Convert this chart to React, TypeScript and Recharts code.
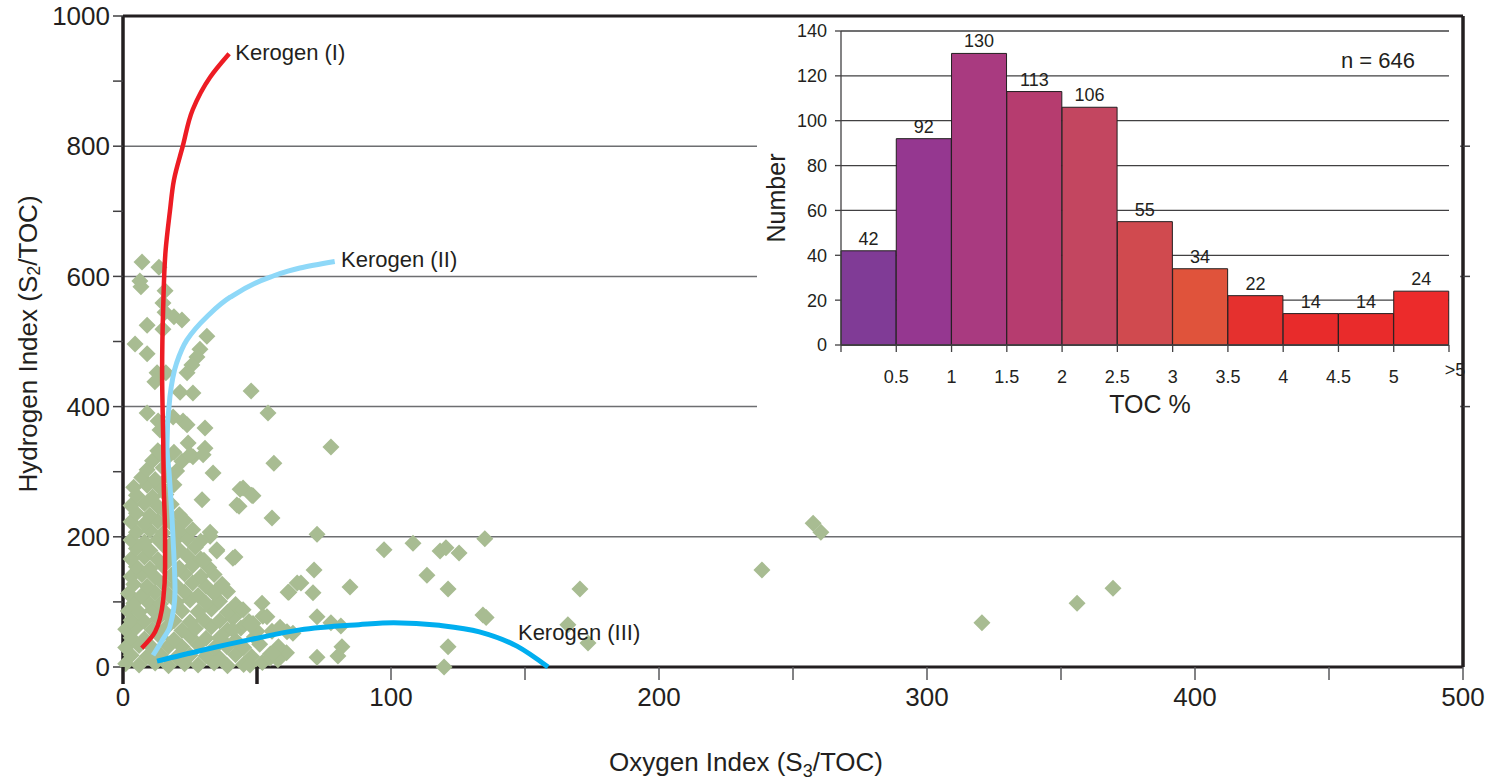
import React from 'react';
import {
  ScatterChart, Scatter, XAxis, YAxis, ReferenceLine, ReferenceDot,
  BarChart, Bar, CartesianGrid, LabelList, Cell, Customized,
} from 'recharts';

const FONT = '"Liberation Sans", Arial, Helvetica, sans-serif';
const INK = '#231f20';
const GRID = '#6d6e71';
const POINT = '#a8bc92';

// ---- Scatter samples: [Oxygen Index, Hydrogen Index] ----
const samplesDense: [number, number][] = [
  [1,5],[6,3],[12,6],[17,2],[23,5],[28,3],[34,6],[39,2],[45,4],[52,7],
  [3,18],[9,16],[14,19],[20,15],[25,18],[31,17],[36,14],[42,19],[48,16],[55,20],[61,22],
  [1,30],[6,33],[11,29],[17,32],[22,31],[28,34],[34,29],[39,33],[45,30],[51,35],[58,31],
  [3,45],[8,43],[14,46],[19,42],[25,47],[31,44],[36,45],[42,41],[49,46],
  [1,58],[5,61],[11,57],[16,60],[22,56],[27,59],[33,62],[39,57],[44,60],[50,55],
  [3,72],[8,70],[13,74],[19,71],[25,69],[30,73],[36,71],[41,75],[47,70],
  [2,86],[6,84],[11,88],[16,83],[22,86],[28,85],[33,89],[39,84],[44,87],
  [4,98],[9,101],[14,97],[20,100],[25,103],[31,98],[36,101],[42,96],
  [2,113],[7,110],[12,114],[17,111],[23,115],[28,110],[34,113],[39,116],
  [4,127],[9,124],[15,128],[20,125],[26,129],[31,124],[37,127],
  [3,139],[7,142],[12,138],[18,141],[23,143],[29,139],[34,142],
  [5,154],[10,151],[15,155],[21,152],[26,156],[32,153],
  [3,166],[8,169],[13,165],[18,168],[24,170],[29,166],
  [5,182],[10,179],[16,183],[21,180],[27,184],
  [3,195],[8,192],[13,196],[19,193],[24,197],[29,193],
  [5,207],[10,210],[15,206],[21,209],[26,211],
  [3,223],[8,220],[13,224],[18,221],[23,225],
  [5,236],[10,233],[16,237],[21,234],
  [3,248],[8,251],[13,247],[18,250],
  [5,264],[11,261],[16,265],
  [4,276],[9,279],[14,275],[19,280],
  [7,291],[12,288],[17,292],
  [9,303],[15,306],[20,301],
  [11,317],[16,320],[22,316],
  [13,332],[19,330],
];

const samplesSparse: [number, number][] = [
  [7.1,622],[13.4,614],[6.3,593],[6.7,584],[15.7,578],[14.9,559],[15.7,545],[19,538],
  [22,533],[9,525],[14.9,519],[31.3,508],[4.5,496],[9,481],[28.7,488],[27.6,476],
  [25.7,464],[23.9,452],[12.7,452],[16,452],[11.9,438],[21.3,422],[26.1,421],[47.8,424],
  [54.1,390],[9,390],[13.1,378],[18.7,384],[22.4,378],[23.9,372],[30.6,367],[13.8,364],
  [24.3,344],[30.6,336],[13.8,329],[26.1,323],[77.6,338],[56.3,313],[33.6,298],[44.8,275],
  [48.5,263],[43.3,247],[29.5,257],[55.6,229],[72.4,204],[32.5,201],[35,178],[41,167],
  [30.2,164],[97.4,180],[108.2,190],[118.3,178],[120.5,183],[125.4,175],[135,197],
  [71.3,149],[66.4,129],[61.9,115],[70.9,114],[84.7,123],[113.4,141],[121.3,120],
  [51.9,98],[52.2,78],[72.4,77],[77.6,68],[81.3,63],[134.3,80],[135.5,76],[47.4,65],
  [55.6,55],[61.2,54],[63.4,52],[121.3,31],[81.7,31],[80.2,17],[72.4,15],[54.9,14],
  [57.8,11],[47.4,3],[119.8,0],[170.5,120],[166,65],[173.5,37],[238.4,149],[257.5,221],
  [260.4,207],[320.5,68],[356,98],[369.4,121],
  [32.5,207],[35,180],[41.8,169],[43.7,273],[48,264],[42.5,249],[25,326],[29.9,326],
  [61.6,115],[53.7,77],[58.6,61],[65,129],[44.8,88],[48.5,67],[56,21],[35,118],[41,57],[38.8,31],
];

// ---- Kerogen evolution paths ----
const kerogenI: [number, number][] = [
  [7,29],[12,54],[15,103],[15.7,154],[15.7,200],[15.2,280],[15,349],[14.6,452],[15,553],
  [15.9,640],[17.5,700],[19,748],[22.3,800],[26,856],[32.5,906],[39.6,942],
];
const kerogenII: [number, number][] = [
  [11.2,18],[14.5,40],[17.5,62],[19.4,118],[18.7,195],[17.2,298],[16.4,340],[17.5,415],
  [20,467],[23.8,502],[31.3,538],[40,568],[54.9,599],[66,613],[79,623],
];
const kerogenIII: [number, number][] = [
  [12.7,9],[28.7,25],[47.4,42],[66,57],[88,65],[101,68],[118,64],[133,54],[147,32],[158.6,0],
];

const xTicks = [0, 50, 100, 150, 200, 250, 300, 350, 400, 450, 500];
const yTicks = [0, 100, 200, 300, 400, 500, 600, 700, 800, 900, 1000];
const gridValues = [200, 400, 600, 800];
const rightTicks = [400, 600, 800];

// ---- Inset histogram ----
const tocBinStart = [0, 0.5, 1, 1.5, 2, 2.5, 3, 3.5, 4, 4.5, 5];
const tocCounts = [42, 92, 130, 113, 106, 55, 34, 22, 14, 14, 24];
const tocColors = ['#803b96', '#953790', '#a93a80', '#b63c6f', '#c34660', '#d04a4f',
  '#e0533b', '#e5302e', '#e82b2b', '#e92b2b', '#ec2b2b'];
const tocEdgeTicks = [0, 0.5, 1, 1.5, 2, 2.5, 3, 3.5, 4, 4.5, 5, 5.5];
const countTicks = [0, 20, 40, 60, 80, 100, 120, 140];

const toPts = (a: [number, number][]) => a.map(([x, y]) => ({ x, y }));
const points = toPts([...samplesDense, ...samplesSparse]);
const histData = tocBinStart.map((s, i) => ({ mid: s + 0.25, count: tocCounts[i] }));

const Diamond = (props: any) => {
  const { cx, cy } = props;
  if (cx == null || cy == null) return <g />;
  const r = 8.5;
  return <polygon points={`${cx},${cy - r} ${cx + r},${cy} ${cx},${cy + r} ${cx - r},${cy}`} fill={POINT} />;
};
const NoShape = () => <g />;

const MainXTick = (props: any) => {
  const { x, y, payload } = props;
  const v = payload.value;
  const bold = v === 0 || v === 50;
  return (
    <g>
      <line x1={x} x2={x} y1={y} y2={y + (bold ? 17 : 13)} stroke={bold ? INK : '#58595b'} strokeWidth={bold ? 3.5 : 1.5} />
      {v % 100 === 0 && (
        <text x={x} y={y + 39} textAnchor="middle" fontSize={26} fill={INK} fontFamily={FONT}>{v}</text>
      )}
    </g>
  );
};

const InsetXTick = (props: any) => {
  const { x, y, payload } = props;
  const v = payload.value;
  if (v === 0) return <g />;
  const last = v === 5.5;
  return (
    <text x={x + (last ? 6 : 0)} y={y + (last ? 24 : 31)} textAnchor="middle" fontSize={18} fill={INK} fontFamily={FONT}>
      {last ? '>5' : String(v)}
    </text>
  );
};

const MainTitles = () => (
  <g fontFamily={FONT} fill={INK}>
    <text x={28} y={344} transform="rotate(-90, 28, 344)" textAnchor="middle" dominantBaseline="central" fontSize={26}>
      Hydrogen Index (S<tspan fontSize={18} dy={6}>2</tspan><tspan dy={-6}>/TOC)</tspan>
    </text>
    <text x={746} y={771} textAnchor="middle" fontSize={26}>
      Oxygen Index (S<tspan fontSize={18} dy={6}>3</tspan><tspan dy={-6}>/TOC)</tspan>
    </text>
  </g>
);

const InsetTitles = () => (
  <g fontFamily={FONT} fill={INK}>
    <text x={19} y={180} transform="rotate(-90, 19, 180)" textAnchor="middle" dominantBaseline="central" fontSize={25}>Number</text>
    <text x={393} y={395} textAnchor="middle" fontSize={25}>TOC %</text>
    <text x={621} y={50} textAnchor="middle" fontSize={22}>n = 646</text>
  </g>
);

const kerogenLabels = [
  { x: 41.5, y: 945, text: 'Kerogen (I)' },
  { x: 81, y: 627, text: 'Kerogen (II)' },
  { x: 147, y: 54, text: 'Kerogen (III)' },
];

export default function App() {
  return (
    <div style={{ position: 'absolute', left: 0, top: 0, width: 1499, height: 782, background: '#fff' }}>
      <ScatterChart width={1499} height={782} margin={{ top: 16, right: 0, bottom: 55, left: 0 }}>
        <XAxis
          type="number" dataKey="x" domain={[0, 500]} ticks={xTicks} interval={0} height={60}
          tickSize={0} tickMargin={0} tickLine={false} tick={<MainXTick />}
          axisLine={{ stroke: INK, strokeWidth: 3 }}
        />
        <YAxis
          type="number" dataKey="y" domain={[0, 1000]} ticks={yTicks} interval={0} width={123}
          tickSize={10} tickMargin={3} tickFormatter={(v: number) => (v % 200 === 0 ? String(v) : '')}
          tick={{ fontSize: 26, fill: INK, fontFamily: FONT }}
          tickLine={{ stroke: '#414042', strokeWidth: 1.5 }}
          axisLine={{ stroke: INK, strokeWidth: 3.5 }}
        />
        <YAxis
          yAxisId="r" orientation="right" type="number" dataKey="y" domain={[0, 1000]} ticks={rightTicks}
          interval={0} width={36} tickSize={7} tickMargin={0} tickFormatter={() => ''}
          tickLine={{ stroke: '#414042', strokeWidth: 1.5 }}
          axisLine={{ stroke: INK, strokeWidth: 3.5 }}
        />
        {gridValues.map((g) => (
          <ReferenceLine key={g} y={g} stroke={GRID} strokeWidth={1.5} />
        ))}
        <ReferenceLine y={1000} stroke={INK} strokeWidth={3} />
        <Scatter data={points} shape={<Diamond />} isAnimationActive={false} />
        <Scatter yAxisId="r" data={toPts(kerogenIII)} shape={<NoShape />} line={{ stroke: '#00aeef', strokeWidth: 5 }} lineType="joint" lineJointType="monotoneX" isAnimationActive={false} />
        <Scatter yAxisId="r" data={toPts(kerogenII)} shape={<NoShape />} line={{ stroke: '#8ed8f8', strokeWidth: 5 }} lineType="joint" lineJointType="monotoneY" isAnimationActive={false} />
        <Scatter yAxisId="r" data={toPts(kerogenI)} shape={<NoShape />} line={{ stroke: '#ed1c24', strokeWidth: 4.5 }} lineType="joint" lineJointType="monotoneY" isAnimationActive={false} />
        {kerogenLabels.map((k) => (
          <ReferenceDot key={k.text} x={k.x} y={k.y} r={1} fill="none" stroke="none" ifOverflow="visible"
            label={{ value: k.text, position: 'right', offset: 0, fill: INK, fontSize: 22, fontFamily: FONT }} />
        ))}
        <Customized component={MainTitles} />
      </ScatterChart>

      <div style={{ position: 'absolute', left: 757, top: 18, width: 703, height: 402, background: '#fff' }} />
      <div style={{ position: 'absolute', left: 757, top: 18, width: 725, height: 402 }}>
        <BarChart width={725} height={402} data={histData} margin={{ top: 13, right: 33, bottom: 40, left: 0 }} barCategoryGap={0} barGap={0}>
          <CartesianGrid vertical={false} stroke="#414042" strokeWidth={1.3} />
          <XAxis
            type="number" dataKey="mid" domain={[0, 5.5]} ticks={tocEdgeTicks} interval={0} height={35}
            tickSize={7} tickMargin={0} tick={<InsetXTick />}
            tickLine={{ stroke: '#414042', strokeWidth: 1.3 }} axisLine={{ stroke: '#414042', strokeWidth: 1.3 }}
          />
          <YAxis
            type="number" domain={[0, 140]} ticks={countTicks} interval={0} width={84}
            tickSize={6} tickMargin={8} tick={{ fontSize: 18, fill: INK, fontFamily: FONT }}
            tickLine={{ stroke: '#414042', strokeWidth: 1.3 }} axisLine={{ stroke: '#414042', strokeWidth: 1.3 }}
          />
          <Bar dataKey="count" stroke={INK} strokeWidth={1} isAnimationActive={false}>
            {histData.map((_, i) => (
              <Cell key={i} fill={tocColors[i]} />
            ))}
            <LabelList dataKey="count" position="top" offset={6} fill={INK} fontSize={18} fontFamily={FONT} />
          </Bar>
          <Customized component={InsetTitles} />
        </BarChart>
      </div>
    </div>
  );
}
